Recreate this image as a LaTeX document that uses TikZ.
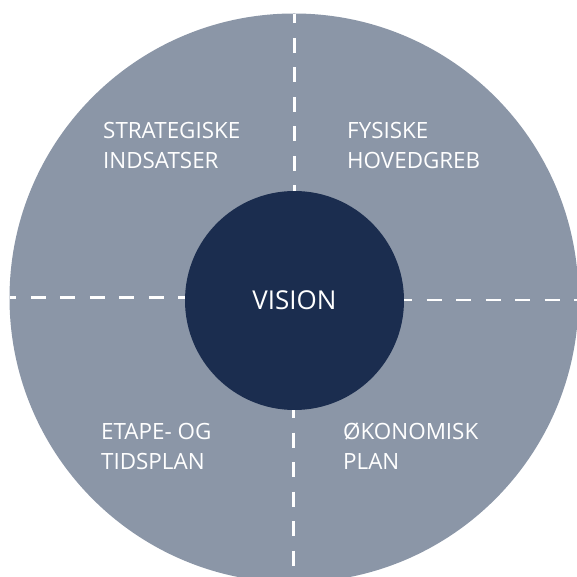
\documentclass[tikz,border=0pt]{standalone}
\usepackage{fontspec}
\setmainfont{Open Sans}
\usepackage{tikz}
\usetikzlibrary{calc,positioning}
\definecolor{discgrey}{RGB}{139,150,167}
\definecolor{visionblue}{RGB}{27,45,79}
\tikzset{%
  disc/.style={circle,fill=discgrey,draw=none,inner sep=0pt,minimum size=569pt},
  core/.style={circle,fill=visionblue,draw=none,inner sep=0pt,minimum size=219pt,
    text=white,font=\fontsize{26}{30}\selectfont},
  divider/.style={draw=white,line width=2.6pt,dash pattern=on 15pt off 14.5pt},
  field/.style={anchor=base west,inner sep=0pt,align=left,text=white,
    font=\fontsize{22.4}{30}\selectfont}
}
\begin{document}
\begin{tikzpicture}[x=1pt,y=-1pt]
	\useasboundingbox (0,0) rectangle (576,577);
	\node[disc] (outer) at (294,298) {};
	% dividers between the four fields
	\coordinate (tn) at (294.3,14);
	\coordinate (bs) at (293.3,583);
	\coordinate (lw) at (10,297.5);
	\coordinate (re) at (579,300);
	\node[core] (vision) at (294.5,300.5) {VISION};
	\draw[divider,dash phase=5.5] (tn) -- (tn |- vision.north);
	\draw[divider,dash phase=7] (vision.south -| bs) -- (bs);
	\draw[divider,dash phase=8.7] (lw) -- (lw -| vision.west);
	\draw[divider,dash phase=7] (vision.east |- re) -- (re);
	% labels of the fields
	\node[field] (strat) at (103,169) {STRATEGISKE\\INDSATSER};
	\node[field] (fysisk) at (347,169) {FYSISKE\\HOVEDGREB};
	\node[field] (etape) at (101,469) {ETAPE- OG\\TIDSPLAN};
	\node[field] (okonom) at (343,469) {ØKONOMISK\\PLAN};
\end{tikzpicture}
\end{document}
